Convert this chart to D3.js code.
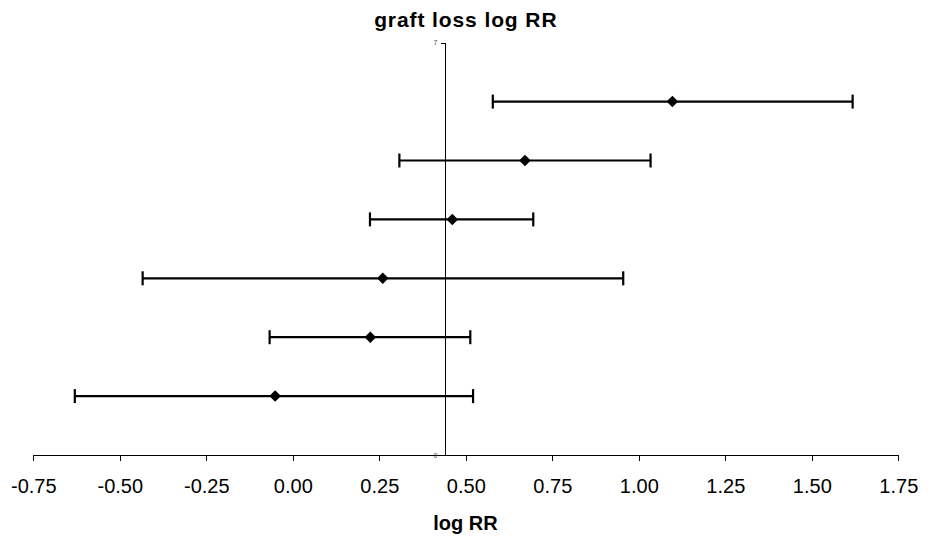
<!DOCTYPE html>
<html>
<head>
<meta charset="utf-8">
<script src="https://cdn.jsdelivr.net/npm/d3@7"></script>
<style>
  body { margin: 0; background: #fff; }
  text { font-family: "Liberation Sans", Arial, Helvetica, sans-serif; }
</style>
</head>
<body>
<div id="chart"></div>
<script>
// values (log RR with CI), one row per study
var rows  = [6, 5, 4, 3, 2, 1];
var est   = [1.097, 0.671, 0.461, 0.260, 0.224, -0.051];
var lower = [0.578, 0.308, 0.223, -0.434, -0.067, -0.630];
var upper = [1.618, 1.034, 0.695, 0.955, 0.513, 0.521];

var xTicks = [-0.75, -0.5, -0.25, 0, 0.25, 0.5, 0.75, 1, 1.25, 1.5, 1.75];
var yTicks = [0, 7];
var yCross = 0.441; // where the vertical axis crosses

var width = 932, height = 537;

var svg = d3.select('#chart').append('svg')
    .attr('width', width)
    .attr('height', height);

var x = d3.scaleLinear().domain([-0.75, 1.75]).range([33.3, 898.3]);
var y = d3.scaleLinear().domain([0, 7]).range([455, 42.7]);

var data = rows.map(function(r, i) {
  return { row: r, est: est[i], lo: lower[i], hi: upper[i] };
});

// plain hyphen for negatives, like the original
var fmt = function(d) { return d3.format('.2f')(d).replace('\u2212', '-'); };

// x axis
var xAxis = svg.append('g')
    .attr('transform', 'translate(0,' + y(0) + ')')
    .call(d3.axisBottom(x)
      .tickValues(xTicks)
      .tickSize(6)
      .tickSizeOuter(6)
      .tickPadding(18)
      .tickFormat(fmt));
xAxis.selectAll('path, line')
    .attr('stroke', '#000')
    .attr('stroke-width', 1)
    .attr('shape-rendering', 'crispEdges');
xAxis.selectAll('text')
    .attr('fill', '#000')
    .style('font-size', '20px');

// vertical axis
var yAxis = svg.append('g')
    .attr('transform', 'translate(' + x(yCross) + ',0)')
    .call(d3.axisLeft(y)
      .tickValues(yTicks)
      .tickSize(4)
      .tickSizeOuter(4)
      .tickPadding(4)
      .tickFormat(d3.format('d')));
yAxis.selectAll('path, line')
    .attr('stroke', '#000')
    .attr('stroke-width', 1)
    .attr('shape-rendering', 'crispEdges');
yAxis.selectAll('text')
    .attr('fill', '#444')
    .style('font-size', '7px');

// error bars
var g = svg.selectAll('.bar')
    .data(data)
  .enter()
  .append('g')
    .attr('class', 'bar');

g.append('line')
    .attr('x1', function(d) { return x(d.lo); })
    .attr('x2', function(d) { return x(d.hi); })
    .attr('y1', function(d) { return y(d.row); })
    .attr('y2', function(d) { return y(d.row); })
    .attr('stroke', '#000')
    .attr('stroke-width', 2.2);

['lo', 'hi'].forEach(function(k) {
  g.append('line')
      .attr('x1', function(d) { return x(d[k]); })
      .attr('x2', function(d) { return x(d[k]); })
      .attr('y1', function(d) { return y(d.row) - 7; })
      .attr('y2', function(d) { return y(d.row) + 7; })
      .attr('stroke', '#000')
      .attr('stroke-width', 2.2);
});

g.append('path')
    .attr('d', d3.symbol().type(d3.symbolDiamond2).size(85))
    .attr('transform', function(d) { return 'translate(' + x(d.est) + ',' + y(d.row) + ')'; })
    .attr('fill', '#000');

// titles
svg.append('text')
    .attr('x', 465.8)
    .attr('y', 26.7)
    .attr('text-anchor', 'middle')
    .style('font-size', '21px')
    .style('font-weight', 'bold')
    .style('letter-spacing', '0.9px')
    .text('graft loss log RR');

svg.append('text')
    .attr('x', 465.5)
    .attr('y', 530)
    .attr('text-anchor', 'middle')
    .style('font-size', '20px')
    .style('font-weight', 'bold')
    .text('log RR');
</script>
</body>
</html>
